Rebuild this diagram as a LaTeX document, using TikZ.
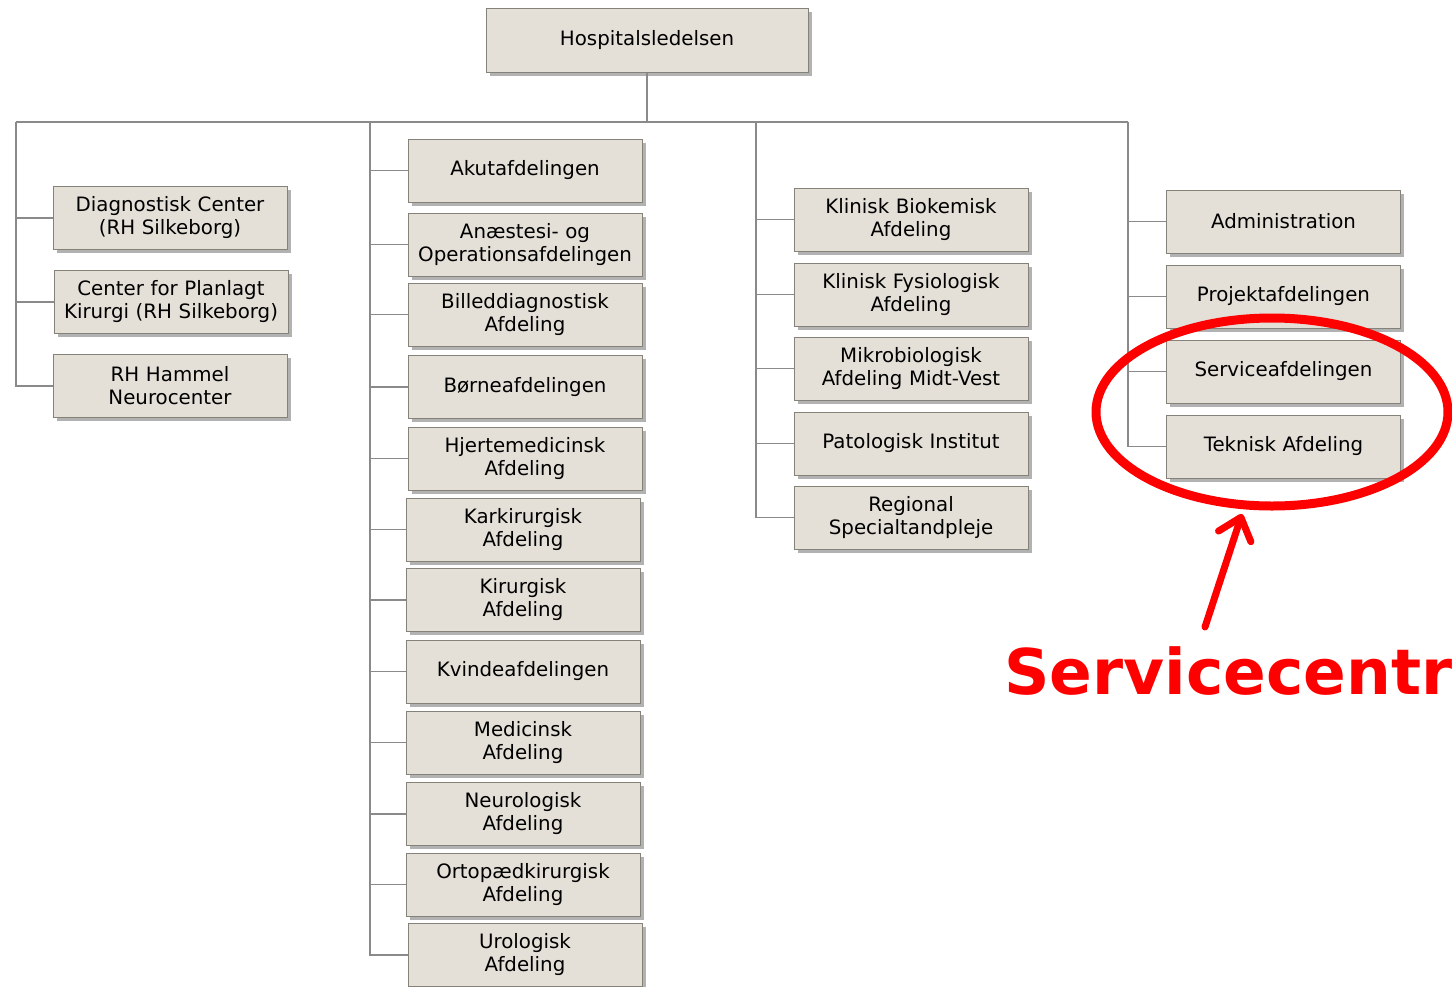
\documentclass[tikz,border=0pt]{standalone}
\usepackage{fontspec}
\setmainfont{DejaVu Sans}
\usetikzlibrary{shadows,arrows.meta}

\definecolor{boxfill}{HTML}{E4E0D8}
\definecolor{boxline}{HTML}{85827A}
\definecolor{linkgray}{HTML}{8A8A8A}
\definecolor{markred}{HTML}{FF0000}

\begin{document}
\begin{tikzpicture}[x=1pt, y=-1pt,
    unit/.style={draw=boxline, fill=boxfill, line width=1pt, text width=234pt,
      minimum height=63pt, inner sep=0pt, align=center,
      font=\fontsize{19.8}{23}\selectfont,
      drop shadow={shadow xshift=3.5pt, shadow yshift=-3.5pt, fill=black, opacity=0.3}},
    link/.style={draw=linkgray, line width=1.5pt}]
    \useasboundingbox (0,0) rectangle (1452,986);
    \node[unit, text width=322pt, minimum height=64pt] (top) at (647,40) {Hospitalsledelsen};
    \coordinate (c1) at (16,122);
    \coordinate (c2) at (370,122);
    \coordinate (c3) at (756,122);
    \coordinate (c4) at (1128,122);
    % Centre column
    \node[unit] (diag) at (170,218) {Diagnostisk Center\\(RH Silkeborg)};
    \node[unit] (plan) at (171,302) {Center for Planlagt\\Kirurgi (RH Silkeborg)};
    \node[unit] (hammel) at (170,386) {RH Hammel\\Neurocenter};
    % Kliniske afdelinger
    \node[unit] (akut) at (525,170.5) {Akutafdelingen};
    \node[unit] (anae) at (525,244.5) {Anæstesi- og\\Operationsafdelingen};
    \node[unit] (bill) at (525,314.5) {Billeddiagnostisk\\Afdeling};
    \node[unit] (boern) at (525,387) {Børneafdelingen};
    \node[unit] (hjerte) at (525,458.5) {Hjertemedicinsk\\Afdeling};
    \node[unit] (kar) at (523,529.5) {Karkirurgisk\\Afdeling};
    \node[unit] (kir) at (523,600) {Kirurgisk\\Afdeling};
    \node[unit] (kvinde) at (523,671.5) {Kvindeafdelingen};
    \node[unit] (med) at (523,742.5) {Medicinsk\\Afdeling};
    \node[unit] (neuro) at (523,814) {Neurologisk\\Afdeling};
    \node[unit] (orto) at (523,884.5) {Ortopædkirurgisk\\Afdeling};
    \node[unit] (uro) at (525,955) {Urologisk\\Afdeling};
    % Parakliniske afdelinger
    \node[unit] (biokem) at (911,219.5) {Klinisk Biokemisk\\Afdeling};
    \node[unit] (fysio) at (911,294.5) {Klinisk Fysiologisk\\Afdeling};
    \node[unit] (mikro) at (911,368.5) {Mikrobiologisk\\Afdeling Midt-Vest};
    \node[unit] (pato) at (911,443.5) {Patologisk Institut};
    \node[unit] (tand) at (911,517.5) {Regional\\Specialtandpleje};
    % Stab og service
    \node[unit] (adm) at (1283.5,221.5) {Administration};
    \node[unit] (proj) at (1283.5,296.5) {Projektafdelingen};
    \node[unit] (serv) at (1283.5,371.5) {Serviceafdelingen};
    \node[unit] (tek) at (1283.5,446.5) {Teknisk Afdeling};
    % Lines
    \draw[link] (top.south) -- (top.south |- c1);
    \draw[link] (c1) -- (c4);
    \draw[link] (c1) |- (diag.west);
    \draw[link] (c1) |- (plan.west);
    \draw[link] (c1) |- (hammel.west);
    \draw[link] (c2) |- (akut.west);
    \draw[link] (c2) |- (anae.west);
    \draw[link] (c2) |- (bill.west);
    \draw[link] (c2) |- (boern.west);
    \draw[link] (c2) |- (hjerte.west);
    \draw[link] (c2) |- (kar.west);
    \draw[link] (c2) |- (kir.west);
    \draw[link] (c2) |- (kvinde.west);
    \draw[link] (c2) |- (med.west);
    \draw[link] (c2) |- (neuro.west);
    \draw[link] (c2) |- (orto.west);
    \draw[link] (c2) |- (uro.west);
    \draw[link] (c3) |- (biokem.west);
    \draw[link] (c3) |- (fysio.west);
    \draw[link] (c3) |- (mikro.west);
    \draw[link] (c3) |- (pato.west);
    \draw[link] (c3) |- (tand.west);
    \draw[link] (c4) |- (adm.west);
    \draw[link] (c4) |- (proj.west);
    \draw[link] (c4) |- (serv.west);
    \draw[link] (c4) |- (tek.west);
    % Red marking
    \draw[markred, line width=9pt] (1272,412) ellipse [x radius=176pt, y radius=94pt];
    \coordinate (tail) at (1205,627);
    \coordinate (tip) at (1242,514);
    \draw[markred, line width=7pt, line cap=round,
      -{Straight Barb[length=20pt, width=34pt, round]}] (tail) -- (tip);
    \node[anchor=base west, inner sep=0pt, text=markred,
      font=\fontsize{63}{70}\selectfont\bfseries] (label) at (1004,694) {Servicecentr};
\end{tikzpicture}
\end{document}
